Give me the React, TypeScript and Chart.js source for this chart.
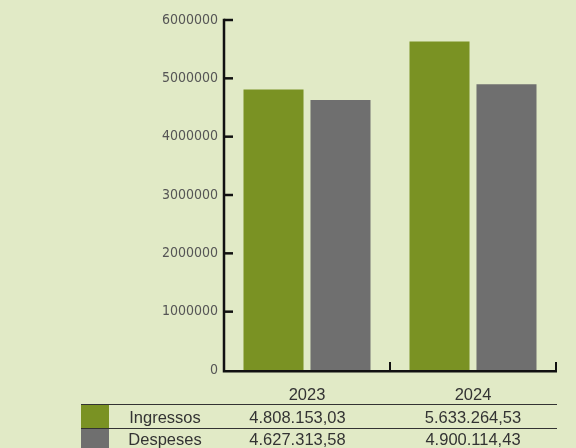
import React, { useEffect, useRef } from 'react';
import Chart from 'chart.js/auto';

const years = ['2023', '2024'];
const ingressos = [4808153.03, 5633264.53];
const despeses = [4627313.58, 4900114.43];
const seriesNames = ['Ingressos', 'Despeses'];
const yTicks = [0, 1000000, 2000000, 3000000, 4000000, 5000000, 6000000];

const BG = '#e1eac6';
const GREEN = '#7a9223';
const GREY = '#6f6f6f';
const INK = '#111';
const TEXT = '#333';

// 4808153.03 -> "4.808.153,03"
const fmt = (v: number) => {
  const [i, d] = v.toFixed(2).split('.');
  return i.replace(/\B(?=(\d{3})+(?!\d))/g, '.') + ',' + d;
};

// axis lines + inward ticks, drawn on top of the bars
const axisMarks = {
  id: 'axisMarks',
  afterDatasetsDraw(chart: any) {
    const { ctx, chartArea } = chart;
    const x = chart.scales.x;
    const y = chart.scales.y;
    ctx.save();
    ctx.strokeStyle = INK;
    ctx.lineCap = 'butt';

    ctx.lineWidth = 2.5;
    ctx.beginPath();
    ctx.moveTo(chartArea.left, chartArea.top - 1.25);
    ctx.lineTo(chartArea.left, chartArea.bottom + 1.25);
    ctx.lineTo(chartArea.right + 1, chartArea.bottom + 1.25);
    ctx.stroke();

    y.ticks.forEach((t: any) => {
      if (t.value === 0) return;
      const py = y.getPixelForValue(t.value);
      ctx.beginPath();
      ctx.moveTo(chartArea.left, py);
      ctx.lineTo(chartArea.left + 9, py);
      ctx.stroke();
    });

    ctx.lineWidth = 2;
    const half = (x.getPixelForValue(1) - x.getPixelForValue(0)) / 2;
    for (let i = 0; i <= years.length; i++) {
      const px = x.getPixelForValue(0) - half + i * 2 * half;
      ctx.beginPath();
      ctx.moveTo(px, chartArea.bottom);
      ctx.lineTo(px, chartArea.bottom - 8);
      ctx.stroke();
    }
    ctx.restore();
  },
};

// data table under the x axis
const dataTable = {
  id: 'dataTable',
  afterDraw(chart: any) {
    const { ctx } = chart;
    const left = 81;
    const right = 557;
    const rows = [404, 428, 448];
    const colCenters = [297.5, 473];
    const values = [ingressos, despeses];
    const colors = [GREEN, GREY];
    ctx.save();

    for (let r = 0; r < 2; r++) {
      ctx.fillStyle = colors[r];
      ctx.fillRect(left, rows[r] + 0.5, 28, rows[r + 1] - rows[r] - 0.5);
    }

    ctx.strokeStyle = TEXT;
    ctx.lineWidth = 1;
    [rows[0], rows[1]].forEach((ry) => {
      ctx.beginPath();
      ctx.moveTo(left, ry + 0.5);
      ctx.lineTo(right, ry + 0.5);
      ctx.stroke();
    });

    ctx.fillStyle = TEXT;
    ctx.font = '16.5px "Liberation Sans", Arial, sans-serif';
    ctx.textAlign = 'center';
    ctx.textBaseline = 'alphabetic';
    const baselines = [423, 444.5];
    for (let r = 0; r < 2; r++) {
      ctx.fillText(seriesNames[r], 165, baselines[r]);
      values[r].forEach((v, i) => ctx.fillText(fmt(v), colCenters[i], baselines[r]));
    }
    ctx.restore();
  },
};

const App: React.FC = () => {
  const chartRef = useRef<HTMLCanvasElement | null>(null);

  useEffect(() => {
    document.body.style.margin = '0';
    if (!chartRef.current) return;
    const ctx = chartRef.current.getContext('2d');
    if (!ctx) return;

    const myChart = new Chart(ctx, {
      type: 'bar',
      data: {
        labels: years,
        datasets: [
          { label: seriesNames[0], data: ingressos, backgroundColor: GREEN, borderWidth: 0 },
          { label: seriesNames[1], data: despeses, backgroundColor: GREY, borderWidth: 0 },
        ],
      },
      options: {
        responsive: false,
        animation: false,
        layout: { padding: { left: 0, right: 20, top: 20, bottom: 0 } },
        datasets: { bar: { categoryPercentage: 0.807, barPercentage: 0.896 } },
        plugins: { legend: { display: false }, tooltip: { enabled: false } },
        scales: {
          x: {
            grid: { display: false, drawTicks: false },
            border: { display: false },
            ticks: {
              color: TEXT,
              padding: 16,
              font: { family: '"Liberation Sans", Arial, sans-serif', size: 16.5 },
            },
            afterFit: (s: any) => {
              s.height = 78;
            },
          },
          y: {
            min: 0,
            max: 6000000,
            afterBuildTicks: (s: any) => {
              s.ticks = yTicks.map((v) => ({ value: v }));
            },
            grid: { display: false, drawTicks: false },
            border: { display: false },
            ticks: {
              color: '#555',
              padding: 6,
              font: { family: '"DejaVu Sans Condensed", "DejaVu Sans", sans-serif', size: 14 },
              callback: (v: any) => String(v),
            },
            afterFit: (s: any) => {
              s.width = 224;
            },
          },
        },
      },
      plugins: [axisMarks, dataTable],
    });

    return () => {
      myChart.destroy();
    };
  }, []);

  return (
    <div style={{ width: 576, height: 448, background: BG, overflow: 'hidden' }}>
      <canvas ref={chartRef} width={576} height={448} />
    </div>
  );
};

export default App;
